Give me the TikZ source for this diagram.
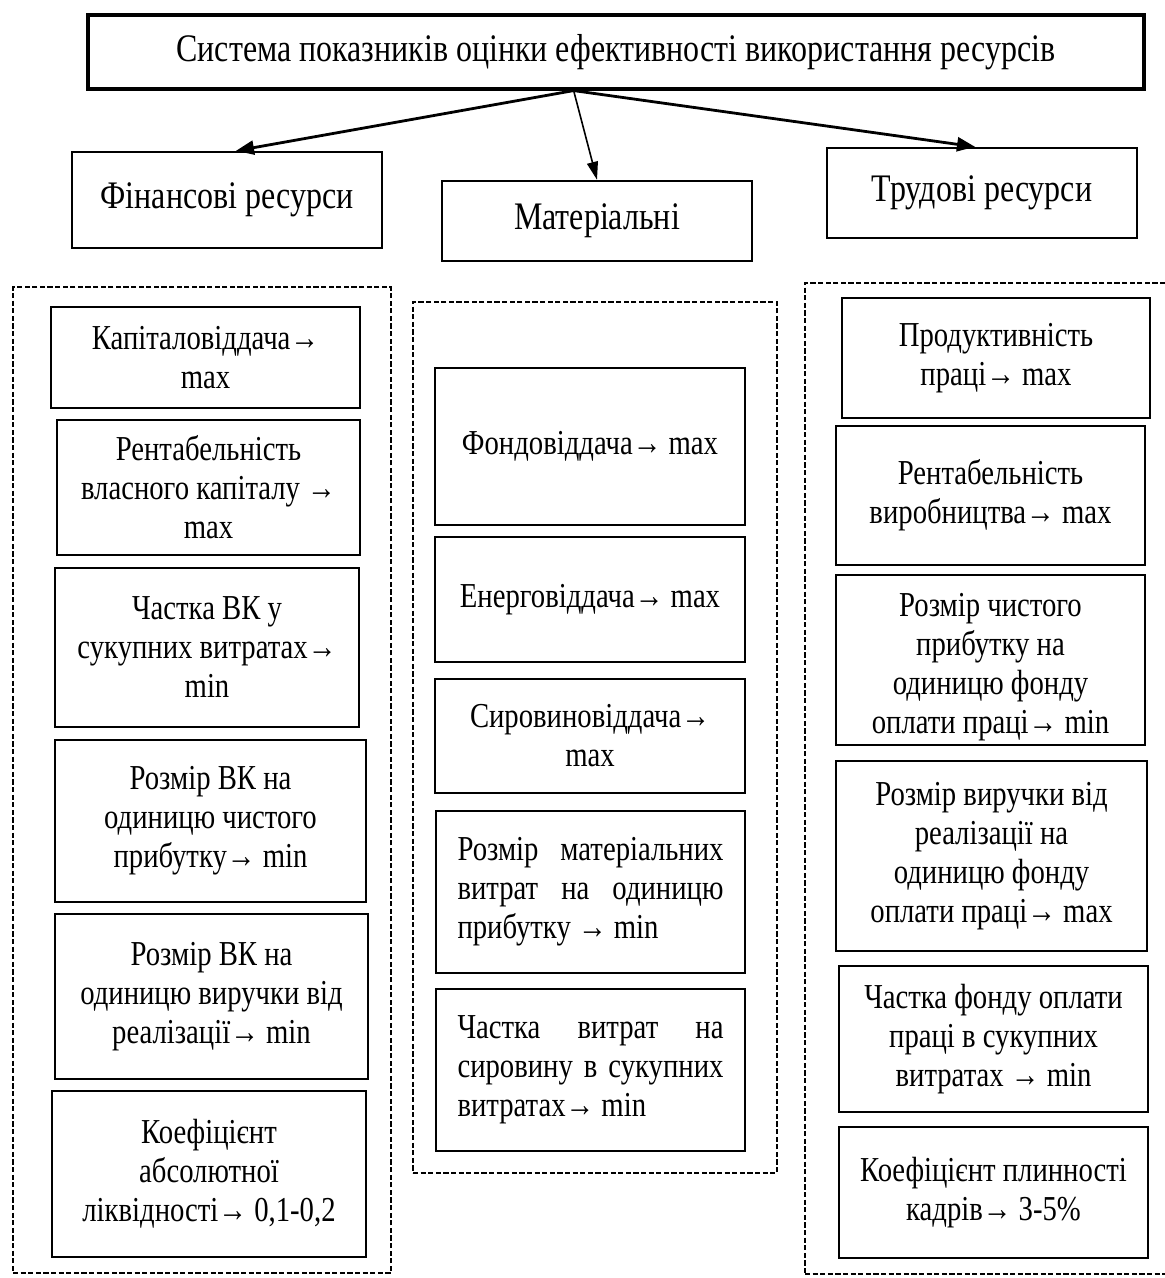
\documentclass[tikz,border=0pt]{standalone}
\usepackage{fontspec}
\setmainfont[FakeStretch=0.82]{Liberation Serif}
\usetikzlibrary{arrows.meta,calc}
\tikzset{
  box/.style={draw, line width=1.2pt, inner sep=0pt, align=center,
    font=\fontsize{17.5pt}{19.5pt}\selectfont},
  hbox/.style={box, font=\fontsize{19.5pt}{21pt}\selectfont},
  topbox/.style={box, line width=1.6pt, font=\fontsize{19.5pt}{21pt}\selectfont},
  dbox/.style={draw, line width=1.1pt, dash pattern=on 2.6pt off 1.2pt, inner sep=0pt},
  txt/.style={inner sep=0pt, align=center, font=\fontsize{17.5pt}{19.5pt}\selectfont},
  conn/.style={line width=1.2pt},
  arr/.style={line width=1.4pt, -{Triangle[length=9pt,width=7pt]}},
  arrthin/.style={line width=0.8pt, -{Triangle[length=9pt,width=5.5pt]}}
}
\newcommand\rbox[7][box]{%
  \node[#1, minimum width={(#5-#3)*0.5pt}, minimum height={(#6-#4)*0.5pt}]
    (#2) at ({(#3+#5)/2},{(#4+#6)/2}) {#7};}
\newcommand\jl[1]{\makebox[133pt][s]{#1}}
\begin{document}
\begin{tikzpicture}[x=0.5pt,y=-0.5pt]
\useasboundingbox (0,0) rectangle (1165,1278);
\clip (0,0) rectangle (1165,1278);

% top and headers
\rbox[topbox]{top}{88}{15}{1144}{89}{Система показників оцінки ефективності використання ресурсів}
\rbox[hbox]{fin}{72}{152}{382}{248}{Фінансові ресурси}
\rbox[hbox]{mat}{442}{181}{752}{261}{Матеріальні}
\rbox[hbox]{trud}{827}{148}{1137}{238}{Трудові ресурси}

% dashed groups
\rbox[dbox]{L}{13}{287}{391}{1273}{}
\rbox[dbox]{M}{413}{302}{777}{1173}{}
\rbox[dbox]{R}{805}{283}{1185}{1274}{}

% arrows
\coordinate (src) at ($(top.south west)!0.46!(top.south east)$);
\draw[arr] (src) -- ($(fin.north)+(9,0)$);
\draw[arrthin] (src) -- (mat.north);
\draw[arr] (src) -- ($(trud.north)+(-7,0)$);

% connectors to groups
\draw[conn] ($(fin.south)+(-9,0)$) -- ($(fin.south)+(-9,0)$ |- L.north);
\draw[conn] ($(mat.south)+(-2,0)$) -- ($(mat.south)+(-2,0)$ |- M.north);
\draw[conn] ($(trud.south)+(3,0)$) -- ($(trud.south)+(3,0)$ |- R.north);

% financial
\rbox{f1}{51}{307}{360}{408}{Капіталовіддача→\\max}
\rbox{f2}{57}{420}{360}{555}{Рентабельність\\власного капіталу →\\max}
\rbox{f3}{55}{568}{359}{727}{Частка ВК у\\сукупних витратах→\\min}
\rbox{f4}{55}{740}{366}{902}{Розмір ВК на\\одиницю чистого\\прибутку→ min}
\rbox{f5}{55}{914}{368}{1079}{Розмір ВК на\\одиницю виручки від\\реалізації→ min}
\rbox{f6}{52}{1091}{366}{1257}{Коефіцієнт\\абсолютної\\ліквідності→ 0,1-0,2}

% material
\rbox{m1}{435}{368}{745}{525}{Фондовіддача→ max}
\rbox{m2}{435}{537}{745}{662}{Енерговіддача→ max}
\rbox{m3}{435}{679}{745}{793}{Сировиновіддача→\\max}
\rbox[box,align=left]{m4}{436}{811}{745}{973}{\jl{Розмір матеріальних}\\\jl{витрат на одиницю}\\прибутку → min}
\rbox[box,align=left]{m5}{436}{989}{745}{1151}{\jl{Частка витрат на}\\\jl{сировину в сукупних}\\витратах→ min}

% labour
\rbox{t1}{842}{298}{1150}{418}{Продуктивність\\праці→ max}
\rbox{t2}{836}{426}{1145}{565}{Рентабельність\\виробництва→ max}
\rbox{t3}{836}{575}{1145}{745}{}
\node[txt] (t3t) at (990.5,667) {Розмір чистого\\прибутку на\\одиницю фонду\\оплати праці→ min};
\rbox{t4}{836}{761}{1147}{951}{Розмір виручки від\\реалізації на\\одиницю фонду\\оплати праці→ max}
\rbox{t5}{839}{966}{1148}{1112}{Частка фонду оплати\\праці в сукупних\\витратах → min}
\rbox{t6}{839}{1127}{1148}{1258}{Коефіцієнт плинності\\кадрів→ 3-5\%}
\end{tikzpicture}
\end{document}
